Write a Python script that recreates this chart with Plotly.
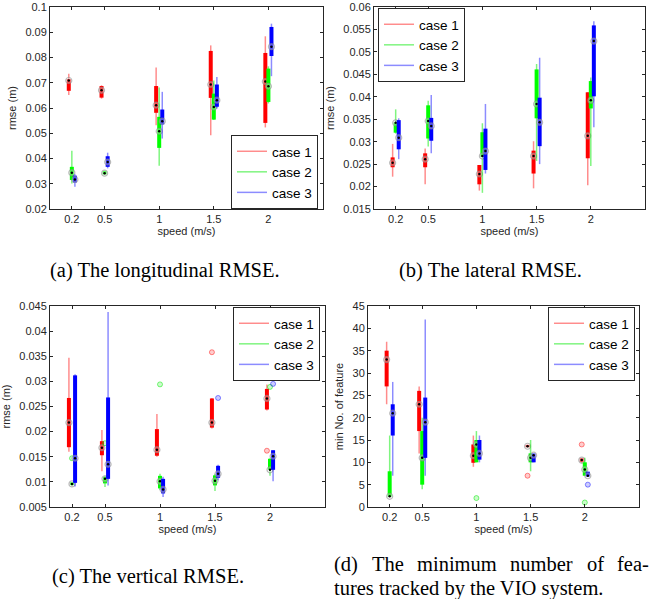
import plotly.graph_objects as go

# ---------------- data ----------------
speeds = [0.2, 0.5, 1, 1.5, 2]
speed_labels = ["0.2", "0.5", "1", "1.5", "2"]
case_names = ["case 1", "case 2", "case 3"]

# (a) longitudinal RMSE  [case][speed]
lon_wlo = [[0.0651, 0.0637, 0.0532, 0.0492, 0.0523],
           [0.0301, 0.0335, 0.0371, 0.0552, 0.0618],
           [0.0288, 0.0361, 0.0479, 0.0598, 0.0726]]
lon_q1 = [[0.0668, 0.0641, 0.0581, 0.0640, 0.0541],
          [0.0315, 0.0337, 0.0442, 0.0554, 0.0624],
          [0.0305, 0.0367, 0.0535, 0.0605, 0.0806]]
lon_med = [[0.0709, 0.0670, 0.0611, 0.0693, 0.0705],
           [0.0344, 0.0342, 0.0508, 0.0604, 0.0686],
           [0.0317, 0.0386, 0.0548, 0.0631, 0.0843]]
lon_q3 = [[0.0714, 0.0687, 0.0687, 0.0826, 0.0818],
          [0.0367, 0.0350, 0.0565, 0.0657, 0.0756],
          [0.0332, 0.0409, 0.0594, 0.0693, 0.0921]]
lon_whi = [[0.0736, 0.0690, 0.0760, 0.0848, 0.0884],
           [0.0431, 0.0352, 0.0681, 0.0709, 0.0765],
           [0.0338, 0.0423, 0.0664, 0.0723, 0.0934]]
lon_out_x = [[], [], []]
lon_out_y = [[], [], []]

# (b) lateral RMSE
lat_wlo = [[0.0222, 0.0205, 0.0191, 0.0196, 0.0203],
           [0.0318, 0.0289, 0.0186, 0.0257, 0.0246],
           [0.0261, 0.0274, 0.0229, 0.0250, 0.0332]]
lat_q1 = [[0.0243, 0.0243, 0.0205, 0.0229, 0.0263],
          [0.0320, 0.0307, 0.0266, 0.0352, 0.0374],
          [0.0283, 0.0302, 0.0237, 0.0290, 0.0401]]
lat_med = [[0.0253, 0.0261, 0.0228, 0.0268, 0.0313],
           [0.0342, 0.0346, 0.0268, 0.0384, 0.0392],
           [0.0309, 0.0335, 0.0279, 0.0343, 0.0524]]
lat_q3 = [[0.0265, 0.0274, 0.0248, 0.0280, 0.0410],
          [0.0343, 0.0381, 0.0321, 0.0461, 0.0435],
          [0.0348, 0.0353, 0.0329, 0.0398, 0.0559]]
lat_whi = [[0.0295, 0.0285, 0.0248, 0.0301, 0.0410],
           [0.0372, 0.0391, 0.0341, 0.0473, 0.0443],
           [0.0352, 0.0404, 0.0384, 0.0487, 0.0568]]
lat_out_x = [[], [], []]
lat_out_y = [[], [], []]

# (c) vertical RMSE
ver_wlo = [[0.0160, 0.0121, 0.0150, 0.0206, 0.0242],
           [0.0092, 0.0090, 0.0084, 0.0082, 0.0112],
           [0.0091, 0.0093, 0.0070, 0.0103, 0.0101]]
ver_q1 = [[0.0169, 0.0153, 0.0152, 0.0208, 0.0244],
          [0.0094, 0.0097, 0.0087, 0.0093, 0.0124],
          [0.0098, 0.0106, 0.0077, 0.0108, 0.0124]]
ver_med = [[0.0218, 0.0168, 0.0164, 0.0218, 0.0266],
           [0.0096, 0.0106, 0.0101, 0.0102, 0.0124],
           [0.0147, 0.0135, 0.0085, 0.0116, 0.0151]]
ver_q3 = [[0.0267, 0.0181, 0.0205, 0.0266, 0.0285],
          [0.0099, 0.0110, 0.0112, 0.0113, 0.0146],
          [0.0312, 0.0268, 0.0106, 0.0132, 0.0163]]
ver_whi = [[0.0347, 0.0203, 0.0235, 0.0267, 0.0294],
           [0.0100, 0.0112, 0.0116, 0.0116, 0.0147],
           [0.0314, 0.0438, 0.0110, 0.0134, 0.0163]]
ver_out_x = [[1.5, 2], [0.2, 0.5, 1, 2], [1.5, 2]]
ver_out_y = [[0.0358, 0.0162], [0.0147, 0.0177, 0.0294, 0.0289], [0.0267, 0.0295]]

# (d) minimum number of features
fea_wlo = [[23, 12, 9, 13.3, 9.8],
           [2.2, 4, 10, 8, 7],
           [7, 7, 10, 10, 6.8]]
fea_q1 = [[27, 17, 9.9, 13.4, 10.1],
          [2.3, 5, 10, 10, 7],
          [16, 11, 10.6, 10, 6.8]]
fea_med = [[33, 23, 11.5, 13.6, 10.5],
           [2.4, 11, 14, 11, 8.4],
           [21, 19, 12, 11.6, 7]]
fea_q3 = [[35, 26, 14, 13.9, 10.9],
          [8, 17, 15, 12, 10],
          [23, 24.5, 15, 12, 7.9]]
fea_whi = [[37, 27, 16, 14, 10.9],
           [16, 20, 17, 15, 11],
           [28, 42, 16, 12, 7.9]]
fea_out_x = [[1.5, 2], [1, 2], [2]]
fea_out_y = [[7, 14], [2, 1], [5]]

# tick labels
lon_ticks = [0.02, 0.03, 0.04, 0.05, 0.06, 0.07, 0.08, 0.09, 0.1]
lon_tick_text = ["0.02", "0.03", "0.04", "0.05", "0.06", "0.07", "0.08", "0.09", "0.1"]
lat_ticks = [0.015, 0.02, 0.025, 0.03, 0.035, 0.04, 0.045, 0.05, 0.055, 0.06]
lat_tick_text = ["0.015", "0.02", "0.025", "0.03", "0.035", "0.04", "0.045", "0.05", "0.055", "0.06"]
ver_ticks = [0.005, 0.01, 0.015, 0.02, 0.025, 0.03, 0.035, 0.04, 0.045]
ver_tick_text = ["0.005", "0.01", "0.015", "0.02", "0.025", "0.03", "0.035", "0.04", "0.045"]
fea_ticks = [0, 5, 10, 15, 20, 25, 30, 35, 40, 45]
fea_tick_text = ["0", "5", "10", "15", "20", "25", "30", "35", "40", "45"]

captions = ["(a) The longitudinal RMSE.", "(b) The lateral RMSE.", "(c) The vertical RMSE."]
caption_d_line1 = ["(d)", "The", "minimum", "number", "of", "fea-"]
caption_d_line2 = "tures tracked by the VIO system."

# ---------------- styling ----------------
W, H = 656, 599
solid = ["rgb(255,0,0)", "rgb(0,255,0)", "rgb(0,0,255)"]
light = ["rgba(255,0,0,0.45)", "rgba(0,235,0,0.5)", "rgba(0,0,255,0.45)"]
faint = ["rgba(255,0,0,0.2)", "rgba(0,235,0,0.2)", "rgba(0,0,255,0.2)"]
offsets = [-0.028, 0.0, 0.028]
AX = "#262626"
SANS = "Liberation Sans, Arial, Helvetica, sans-serif"
SERIF = "Liberation Serif, Times New Roman, serif"

panels = [
    dict(wlo=lon_wlo, q1=lon_q1, med=lon_med, q3=lon_q3, whi=lon_whi, ox=lon_out_x, oy=lon_out_y,
         ticks=lon_ticks, ttext=lon_tick_text, yr=[0.02, 0.1], ytitle="rmse (m)",
         xd=(50, 323), yd=(7, 209), leg=dict(x=318, y=209, xa="right", ya="bottom")),
    dict(wlo=lat_wlo, q1=lat_q1, med=lat_med, q3=lat_q3, whi=lat_whi, ox=lat_out_x, oy=lat_out_y,
         ticks=lat_ticks, ttext=lat_tick_text, yr=[0.015, 0.06], ytitle="rmse (m)",
         xd=(374, 645), yd=(7, 209), leg=dict(x=378, y=8, xa="left", ya="top")),
    dict(wlo=ver_wlo, q1=ver_q1, med=ver_med, q3=ver_q3, whi=ver_whi, ox=ver_out_x, oy=ver_out_y,
         ticks=ver_ticks, ttext=ver_tick_text, yr=[0.005, 0.045], ytitle="rmse (m)",
         xd=(50, 325), yd=(306, 507), leg=dict(x=320, y=307, xa="right", ya="top")),
    dict(wlo=fea_wlo, q1=fea_q1, med=fea_med, q3=fea_q3, whi=fea_whi, ox=fea_out_x, oy=fea_out_y,
         ticks=fea_ticks, ttext=fea_tick_text, yr=[0, 45], ytitle="min No. of feature",
         xd=(368, 639), yd=(306, 507), leg=dict(x=635, y=307, xa="right", ya="top")),
]

fig = go.Figure()
layout = dict(width=W, height=H, autosize=False, margin=dict(l=0, r=0, t=0, b=0, autoexpand=False),
              paper_bgcolor="white", plot_bgcolor="white", showlegend=True,
              font=dict(family=SANS, color=AX))

for i, p in enumerate(panels):
    n = "" if i == 0 else str(i + 1)
    xref, yref = "x" + n, "y" + n
    legname = "legend" + n
    for c in range(3):
        wx, wy, bx, by = [], [], [], []
        for k, s in enumerate(speeds):
            xp = s + offsets[c]
            wx += [xp, xp, None]
            wy += [p["wlo"][c][k], p["whi"][c][k], None]
            bx += [xp, xp, None]
            by += [p["q1"][c][k], p["q3"][c][k], None]
        mx = [s + offsets[c] for s in speeds]
        fig.add_trace(go.Scatter(x=wx, y=wy, mode="lines", name=case_names[c],
                                 line=dict(color=light[c], width=1.5),
                                 xaxis=xref, yaxis=yref, legend=legname, showlegend=True,
                                 hoverinfo="skip"))
        fig.add_trace(go.Scatter(x=bx, y=by, mode="lines", line=dict(color=solid[c], width=4),
                                 xaxis=xref, yaxis=yref, showlegend=False, hoverinfo="skip"))
        if p["ox"][c]:
            fig.add_trace(go.Scatter(x=[v + offsets[c] for v in p["ox"][c]], y=p["oy"][c],
                                     mode="markers",
                                     marker=dict(symbol="circle", size=5, color=faint[c],
                                                 line=dict(color=light[c], width=1)),
                                     xaxis=xref, yaxis=yref, showlegend=False, hoverinfo="skip"))
        fig.add_trace(go.Scatter(x=mx, y=p["med"][c], mode="markers",
                                 marker=dict(symbol="circle", size=6, color="rgba(255,255,255,0.3)",
                                             line=dict(color="rgba(140,140,140,0.6)", width=1.2)),
                                 xaxis=xref, yaxis=yref, showlegend=False, hoverinfo="skip"))
        fig.add_trace(go.Scatter(x=mx, y=p["med"][c], mode="markers",
                                 marker=dict(symbol="circle", size=2.5, color="black"),
                                 xaxis=xref, yaxis=yref, showlegend=False, hoverinfo="skip"))

    layout["xaxis" + n] = dict(domain=[p["xd"][0] / W, p["xd"][1] / W], anchor=yref, automargin=False,
                               range=[0, 2.5], tickmode="array", tickvals=speeds, ticktext=speed_labels,
                               ticks="inside", ticklen=3, tickcolor=AX, mirror="ticks",
                               showline=True, linecolor=AX, linewidth=1, showgrid=False, zeroline=False,
                               tickfont=dict(size=11, color=AX, family=SANS),
                               title=dict(text="speed (m/s)", font=dict(size=11, color=AX, family=SANS), standoff=1))
    layout["yaxis" + n] = dict(domain=[1 - p["yd"][1] / H, 1 - p["yd"][0] / H], anchor=xref, automargin=False,
                               range=p["yr"], tickmode="array", tickvals=p["ticks"], ticktext=p["ttext"],
                               ticks="inside", ticklen=3, tickcolor=AX, mirror="ticks",
                               showline=True, linecolor=AX, linewidth=1, showgrid=False, zeroline=False,
                               tickfont=dict(size=11, color=AX, family=SANS),
                               title=dict(text=p["ytitle"], font=dict(size=11, color=AX, family=SANS), standoff=6))
    lg = p["leg"]
    layout[legname] = dict(x=lg["x"] / W, y=1 - lg["y"] / H, xanchor=lg["xa"], yanchor=lg["ya"],
                           xref="paper", yref="paper", bgcolor="white", bordercolor=AX, borderwidth=1,
                           font=dict(size=13.5, color="black", family=SANS), itemwidth=30,
                           tracegroupgap=0)

fig.update_layout(**layout)

# captions
cap_y = 1 - 270 / H
cap_font = dict(family=SERIF, size=20.5, color="black")
fig.add_annotation(text=captions[0], x=165 / W, y=cap_y, xref="paper", yref="paper",
                   showarrow=False, xanchor="center", yanchor="middle", font=cap_font)
fig.add_annotation(text=captions[1], x=490 / W, y=cap_y, xref="paper", yref="paper",
                   showarrow=False, xanchor="center", yanchor="middle", font=cap_font)
fig.add_annotation(text=captions[2], x=148 / W, y=1 - 576 / H, xref="paper", yref="paper",
                   showarrow=False, xanchor="center", yanchor="middle", font=cap_font)
word_x = [333, 370.5, 416, 509.3, 585.5, 616.2]
for wtxt, wx in zip(caption_d_line1, word_x):
    fig.add_annotation(text=wtxt, x=wx / W, y=1 - 564 / H, xref="paper", yref="paper",
                       showarrow=False, xanchor="left", yanchor="middle", font=cap_font, borderpad=0)
fig.add_annotation(text=caption_d_line2, x=333 / W, y=1 - 588 / H, xref="paper", yref="paper",
                   showarrow=False, xanchor="left", yanchor="middle", font=cap_font, borderpad=0)

fig.write_html("out.html", post_script="document.body.style.margin='0px';",
               config={"displayModeBar": False})
